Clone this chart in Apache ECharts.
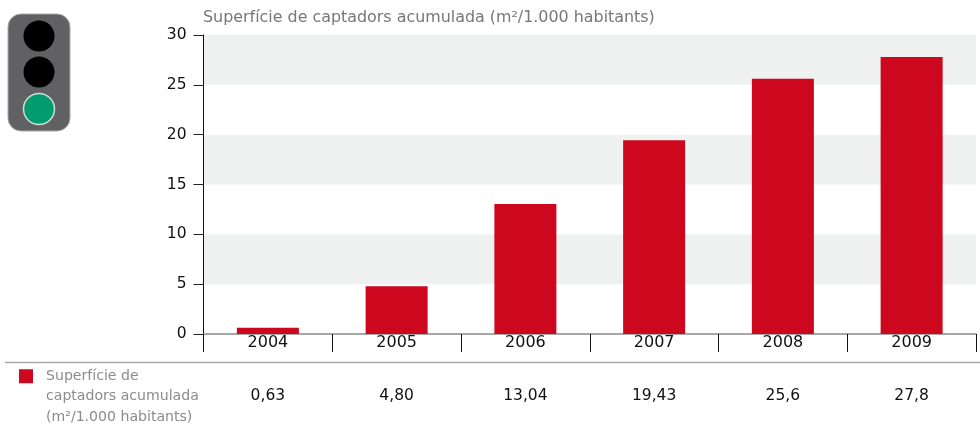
<!DOCTYPE html>
<html>
<head>
<meta charset="utf-8">
<style>
  html, body { margin: 0; padding: 0; background: #fff; }
  #main { width: 980px; height: 424px; }
</style>
<script src="https://cdn.jsdelivr.net/npm/echarts@6/dist/echarts.min.js"></script>
</head>
<body>
<div id="main"></div>
<script>
var years = ['2004', '2005', '2006', '2007', '2008', '2009']
var superficie = [0.63, 4.80, 13.04, 19.43, 25.6, 27.8]
var tableLabels = ['0,63', '4,80', '13,04', '19,43', '25,6', '27,8']
var chartTitle = 'Superfície de captadors acumulada (m²/1.000 habitants)'
var serieName = 'Superfície de captadors acumulada (m²/1.000 habitants)'
var legendLines = '\n\nSuperfície de\ncaptadors acumulada\n(m²/1.000 habitants)' // les línies buides pugen la icona a la primera línia

var fontName = 'DejaVu Sans'

var option = {
  animation: false,
  textStyle: { fontFamily: fontName },
  title: {
    text: chartTitle,
    left: 203,
    top: 10,
    padding: 0,
    textStyle: { fontFamily: fontName, fontSize: 15.9, fontWeight: 'normal', color: '#77777a' }
  },
  legend: { //图例
    data: [serieName],
    left: 19,
    top: 325,
    padding: 0,
    icon: 'rect',
    itemWidth: 14,
    itemHeight: 14,
    itemGap: 0,
    align: 'left',
    formatter: function () { return legendLines },
    textStyle: { fontFamily: fontName, fontSize: 14.1, lineHeight: 20.5, color: '#8b8b8e', padding: [0, 0, 0, 8] },
    selectedMode: false
  },
  grid: { left: 203.5, right: 4, top: 35, bottom: 90 },
  xAxis: [
    {
      type: 'category',
      data: years,
      axisLine: { lineStyle: { color: '#8c8c8c', width: 1.5 } },
      axisTick: { show: true, length: 18, alignWithLabel: false, lineStyle: { color: '#111', width: 1 } },
      axisLabel: { color: '#111', fontSize: 16, margin: 0, lineHeight: 17 }
    },
    { // fila de valors sota el gràfic
      type: 'category',
      position: 'bottom',
      offset: 53,
      data: tableLabels,
      axisLine: { show: false },
      axisTick: { show: false },
      axisLabel: { color: '#111', fontSize: 15.5, margin: 0, lineHeight: 18 }
    }
  ],
  yAxis: [{
    type: 'value',
    min: 0,
    max: 30,
    interval: 5,
    axisLine: { show: true, lineStyle: { color: '#111', width: 1 } },
    axisTick: { show: true, length: 10, lineStyle: { color: '#222', width: 1 } },
    axisLabel: { color: '#111', fontSize: 15.5, margin: 17 },
    splitLine: { show: false },
    splitArea: { show: true, areaStyle: { color: ['#ffffff', '#eff1f0'] } }
  }],
  series: [{
    name: serieName,
    type: 'bar',
    data: superficie,
    barWidth: 62,
    itemStyle: { color: '#cd071e' }
  }],
  graphic: [
    // allargada de l'eix Y per sota del zero
    { type: 'line', shape: { x1: 203.5, y1: 334, x2: 203.5, y2: 352 }, style: { stroke: '#111', lineWidth: 1 } },
    // separador de la taula
    { type: 'line', shape: { x1: 5, y1: 362.5, x2: 980, y2: 362.5 }, style: { stroke: '#aaaaaa', lineWidth: 1.5 } },
    // semàfor
    { type: 'rect', shape: { x: 8, y: 14, width: 62, height: 117, r: 13 }, style: { fill: '#616163', stroke: '#a9a9aa', lineWidth: 1 } },
    { type: 'circle', shape: { cx: 39, cy: 36, r: 15.5 }, style: { fill: '#000' } },
    { type: 'circle', shape: { cx: 39, cy: 72, r: 15.5 }, style: { fill: '#000' } },
    { type: 'circle', shape: { cx: 39, cy: 109, r: 15.5 }, style: { fill: '#009b6e', stroke: '#d5dcd8', lineWidth: 1.5 } }
  ]
}

var myChart = echarts.init(document.getElementById('main'))
myChart.setOption(option)
</script>
</body>
</html>
